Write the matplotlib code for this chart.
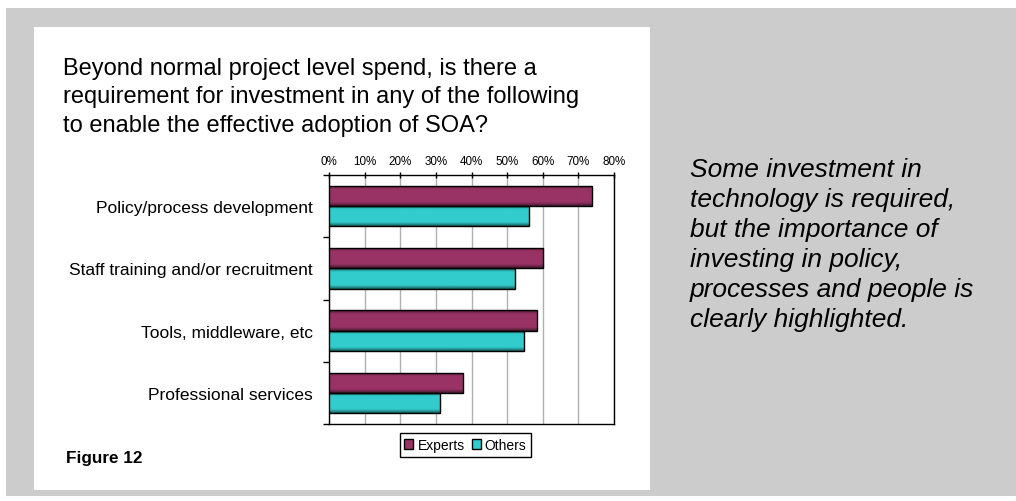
import numpy as np
import matplotlib
matplotlib.use("Agg")
import matplotlib.pyplot as plt
from matplotlib.patches import Rectangle, Patch
from matplotlib.ticker import FuncFormatter
from matplotlib.colors import to_rgb

# ---- data -------------------------------------------------------------
categories = [
    "Policy/process development",
    "Staff training and/or recruitment",
    "Tools, middleware, etc",
    "Professional services",
]
series_names = ["Experts", "Others"]
experts = [73.7, 60.2, 58.3, 37.5]
others = [56.2, 52.1, 54.8, 31.2]
x_ticks = [0, 10, 20, 30, 40, 50, 60, 70, 80]

title_lines = [
    "Beyond normal project level spend, is there a",
    "requirement for investment in any of the following",
    "to enable the effective adoption of SOA?",
]
note_lines = [
    "Some investment in",
    "technology is required,",
    "but the importance of",
    "investing in policy,",
    "processes and people is",
    "clearly highlighted.",
]
figure_label = "Figure 12"

# ---- styling ----------------------------------------------------------
plt.rcParams["font.family"] = ["Liberation Sans", "DejaVu Sans"]
series_colors = ["#993366", "#33cccc"]
W, H = 1016, 502

fig = plt.figure(figsize=(W / 100, H / 100), dpi=100)
fig.patch.set_facecolor("white")


def fx(px):
    return px / W


def fy(py):
    return 1 - py / H


def page_rect(x0, y0, x1, y1, color):
    fig.add_artist(Rectangle((fx(x0), fy(y1)), (x1 - x0) / W, (y1 - y0) / H,
                             transform=fig.transFigure, facecolor=color,
                             edgecolor="none", zorder=-10))


# grey slide background and white chart panel
page_rect(6, 9, W, 497, "#cccccc")
page_rect(34, 28, 650, 491, "white")

ax = fig.add_axes([fx(329), fy(425), (614 - 329) / W, (425 - 176) / H])
ax.set_facecolor("white")

y = np.arange(len(categories))
bar_h = 0.325


def shaded(rgb, n=64):
    t = np.linspace(0, 1, n)
    f = 0.45 + 0.55 * np.clip(np.sin(np.pi * t) * 1.8, 0, 1)
    arr = np.array(rgb)[None, :] * f[:, None]
    return arr[:, None, :]


for vals, offs, col in [(experts, -bar_h / 2, series_colors[0]),
                        (others, bar_h / 2, series_colors[1])]:
    bars = ax.barh(y + offs, vals, height=bar_h, facecolor="none",
                   edgecolor="black", linewidth=1, zorder=4)
    grad = shaded(to_rgb(col))
    for p in bars.patches:
        x0, y0 = p.get_x(), p.get_y()
        w, h = p.get_width(), p.get_height()
        im = ax.imshow(grad, extent=[x0, x0 + w, y0 + h, y0], aspect="auto",
                       interpolation="bilinear", zorder=3)
        im.set_clip_path(p)

ax.set_xlim(0, 80)
ax.set_ylim(len(categories) - 0.5, -0.5)
ax.set_aspect("auto")

# value axis along the top
ax.xaxis.tick_top()
ax.set_xticks(x_ticks)
ax.xaxis.set_major_formatter(FuncFormatter(lambda v, p: f"{v:.0f}%"))
ax.tick_params(axis="x", which="major", direction="inout", length=5, width=1,
               labelsize=8.4, pad=3.0, top=True, bottom=False,
               labeltop=True, labelbottom=False)

# category axis: labels at centres, tick marks between groups
ax.set_yticks(y)
ax.set_yticklabels(categories, fontsize=12.5)
ax.tick_params(axis="y", which="major", length=0, pad=11.5)
ax.set_yticks(np.arange(-0.5, len(categories), 1), minor=True)
ax.tick_params(axis="y", which="minor", direction="out", length=4.3, width=1)

ax.xaxis.grid(True, color="#b0b0b0", linewidth=1)
ax.set_axisbelow(True)
for s in ax.spines.values():
    s.set_color("black")
    s.set_linewidth(1)

# legend below the plot
handles = [Patch(facecolor=c, edgecolor="black", linewidth=1) for c in series_colors]
leg = fig.legend(handles, series_names, loc="center",
                 bbox_to_anchor=(fx(465.5), fy(446)), ncol=2, fontsize=10,
                 frameon=True, fancybox=False, edgecolor="black",
                 handlelength=0.65, handleheight=0.65, handletextpad=0.3,
                 columnspacing=0.5, borderpad=0.35, borderaxespad=0)
leg.get_frame().set_linewidth(1)
leg.get_frame().set_alpha(1)

# title block
for i, line in enumerate(title_lines):
    fig.text(fx(63), fy(75 + 28.3 * i), line, fontsize=17, va="baseline",
             ha="left", color="black")

# commentary on the right
for i, line in enumerate(note_lines):
    fig.text(fx(690), fy(176.7 + 30 * i), line, fontsize=19, style="italic",
             va="baseline", ha="left", color="black")

fig.text(fx(66), fy(462.7), figure_label, fontsize=12.3, fontweight="bold",
         va="baseline", ha="left", color="black")

fig.savefig("out.png", dpi=100)
